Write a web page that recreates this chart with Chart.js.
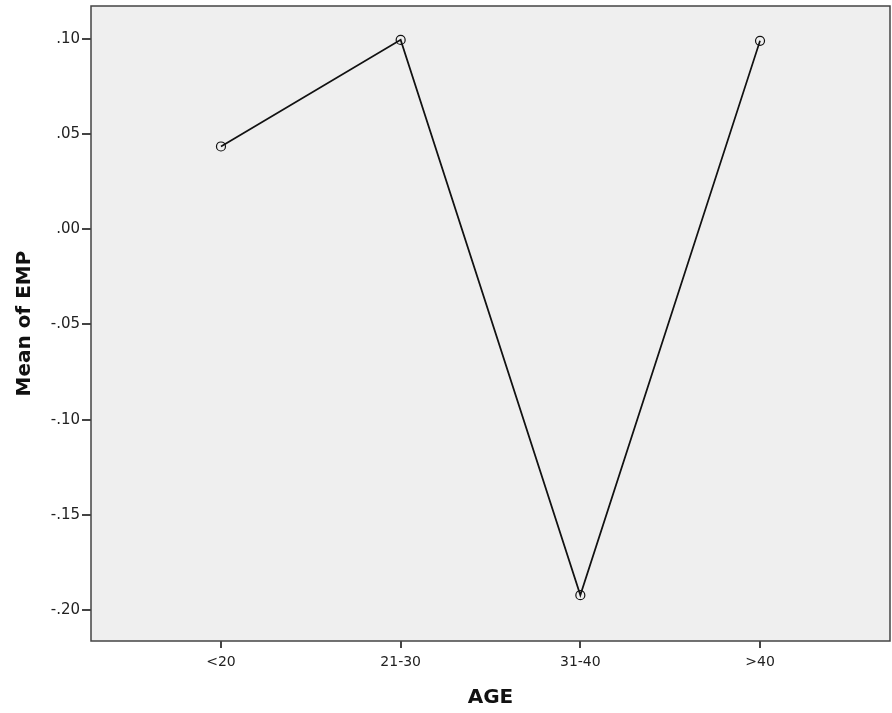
<!DOCTYPE html>
<html>
<head>
<meta charset="utf-8">
<script src="https://cdn.jsdelivr.net/npm/chart.js@4.4.0/dist/chart.umd.min.js"></script>
<style>
  html, body { margin: 0; padding: 0; background: #fff; }
  canvas { display: block; }
</style>
</head>
<body>
<canvas id="chart" width="892" height="713"></canvas>
<script>
// data
const ageGroups = ['<20', '21-30', '31-40', '>40'];
const meanEmp = [0.0435, 0.0995, -0.1922, 0.0990];
const yTicks = [0.10, 0.05, 0.00, -0.05, -0.10, -0.15, -0.20];
const yLabels = ['.10', '.05', '.00', '-.05', '-.10', '-.15', '-.20'];

const points = meanEmp.map((v, i) => ({ x: i, y: v }));

// grey plot background + frame
const plotFrame = {
    id: 'plotFrame',
    beforeDraw(chart) {
        const a = chart.chartArea, ctx = chart.ctx;
        ctx.save();
        ctx.fillStyle = '#efefef';
        ctx.fillRect(a.left, a.top, a.right - a.left, a.bottom - a.top);
        ctx.restore();
    },
    afterDraw(chart) {
        const a = chart.chartArea, ctx = chart.ctx;
        ctx.save();
        ctx.strokeStyle = '#444';
        ctx.lineWidth = 1.5;
        ctx.strokeRect(a.left, a.top, a.right - a.left, a.bottom - a.top);
        ctx.restore();
    }
};

const titleFont = { family: 'DejaVu Sans', size: 20, weight: 'bold' };

new Chart(document.getElementById('chart'), {
    type: 'line',
    data: {
        datasets: [{
            label: 'Mean of EMP',
            data: points,
            borderColor: '#111',
            borderWidth: 1.7,
            tension: 0,
            fill: false,
            pointRadius: 4.5,
            pointBorderWidth: 1.2,
            pointBorderColor: '#111',
            pointBackgroundColor: 'rgba(0,0,0,0)'
        }]
    },
    options: {
        responsive: false,
        animation: false,
        layout: { autoPadding: false, padding: { top: 6, right: 2, left: 0, bottom: 0 } },
        plugins: { legend: { display: false }, tooltip: { enabled: false } },
        scales: {
            x: {
                type: 'linear',
                min: -0.7234,
                max: 3.7234,
                afterBuildTicks: s => { s.ticks = ageGroups.map((_, i) => ({ value: i })); },
                afterFit: s => { s.height = 72; s.paddingLeft = 0; s.paddingRight = 0; },
                ticks: {
                    color: '#222',
                    font: { family: 'DejaVu Sans', size: 14 },
                    padding: 6,
                    maxRotation: 0,
                    callback: v => ageGroups[v]
                },
                grid: { drawOnChartArea: false, tickLength: 7, color: '#444', lineWidth: 2 },
                border: { display: false },
                title: { display: true, text: 'AGE', color: '#111', font: titleFont, padding: { top: 12, bottom: 3 } }
            },
            y: {
                type: 'linear',
                min: -0.2163,
                max: 0.1173,
                afterBuildTicks: s => { s.ticks = yTicks.map(v => ({ value: v })); },
                afterFit: s => { s.width = 91; s.paddingTop = 0; s.paddingBottom = 0; },
                ticks: {
                    color: '#222',
                    font: { family: 'DejaVu Sans', size: 15 },
                    padding: 2,
                    callback: v => yLabels[yTicks.findIndex(t => Math.abs(t - v) < 1e-6)]
                },
                grid: { drawOnChartArea: false, tickLength: 9, color: '#444', lineWidth: 2 },
                border: { display: false },
                title: { display: true, text: 'Mean of EMP', color: '#111', font: titleFont, padding: { bottom: 0, top: 13 } }
            }
        }
    },
    plugins: [plotFrame]
});
</script>
</body>
</html>
